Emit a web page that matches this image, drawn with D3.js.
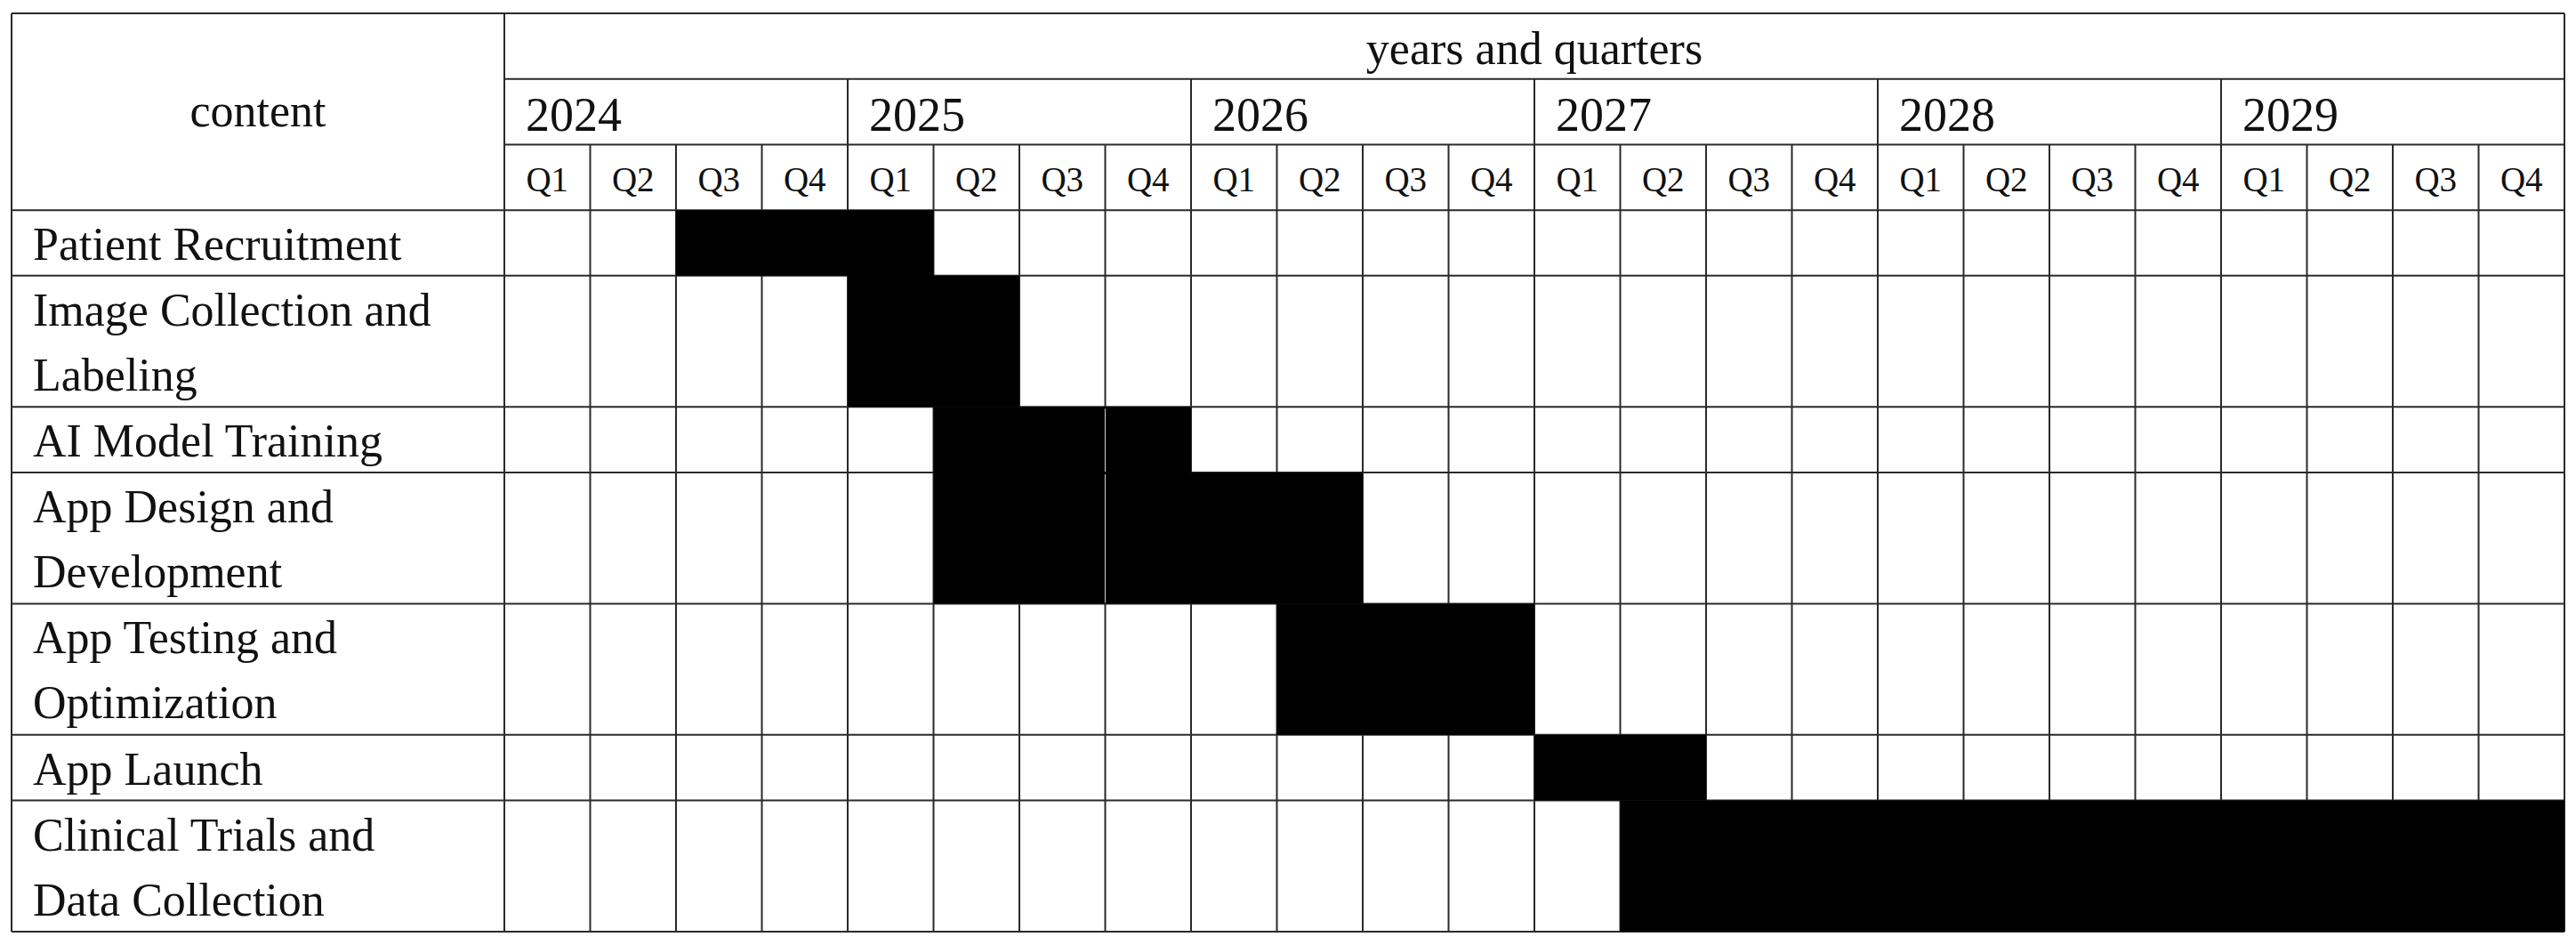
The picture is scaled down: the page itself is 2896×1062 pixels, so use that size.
<!DOCTYPE html>
<html>
<head>
<meta charset="utf-8">
<script src="https://cdn.jsdelivr.net/npm/d3@7"></script>
<style>
  html, body { margin: 0; padding: 0; background: #fff; }
  svg { display: block; }
  text { font-family: "Liberation Serif", "Times New Roman", serif; fill: #111; }
</style>
</head>
<body>
<script>
// ---- data ----
const years = ["2024", "2025", "2026", "2027", "2028", "2029"];
const quarters = ["Q1", "Q2", "Q3", "Q4"];
const headerTitle = "years and quarters";
const contentTitle = "content";
const taskLines = [
  ["Patient Recruitment"],
  ["Image Collection and", "Labeling"],
  ["AI Model Training"],
  ["App Design and", "Development"],
  ["App Testing and", "Optimization"],
  ["App Launch"],
  ["Clinical Trials and", "Data Collection"]
];
const taskStart = ["2024 Q3", "2025 Q1", "2025 Q2", "2025 Q2", "2026 Q2", "2027 Q1", "2027 Q2"];
const taskEnd   = ["2025 Q1", "2025 Q2", "2025 Q4", "2026 Q2", "2026 Q4", "2027 Q2", "2029 Q4"];
// thin light seam visible in the original between 2025 Q3 and 2025 Q4
const seamAt = "2025 Q4";
const seamTasks = [2, 3];

// ---- layout ----
const W = 2896, H = 1062;
const svg = d3.select("body").append("svg").attr("width", W).attr("height", H);

const nQ = years.length * quarters.length;
const qIndex = s => { const [y, q] = s.split(" "); return years.indexOf(y) * 4 + quarters.indexOf(q); };

const x = d3.scaleLinear().domain([0, nQ]).range([567, 2883]);
const leftX = 13;

// vertical units: header 3 rows of 1 unit, task rows 1 or 2 units (by line count)
const rowUnits = taskLines.map(l => l.length);
const totalUnits = 3 + d3.sum(rowUnits);
const y = d3.scaleLinear().domain([0, totalUnits]).range([15, 1047]);
const rowTop = [];
let acc = 3;
rowUnits.forEach(u => { rowTop.push(acc); acc += u; });

const FS = 52, QFS = 39, LINE = "#2a2a2a", SW = 2;

// ---- grid lines ----
const lines = svg.append("g").attr("stroke", LINE).attr("stroke-width", SW).attr("fill", "none");
rowTop.concat([totalUnits]).forEach(u => {
  lines.append("line").attr("x1", leftX).attr("x2", x(nQ)).attr("y1", y(u)).attr("y2", y(u));
});
lines.append("line").attr("x1", leftX).attr("x2", x(nQ)).attr("y1", y(0)).attr("y2", y(0));
[1, 2].forEach(u => lines.append("line").attr("x1", x(0)).attr("x2", x(nQ)).attr("y1", y(u)).attr("y2", y(u)));
[leftX, x(0), x(nQ)].forEach(px => lines.append("line").attr("x1", px).attr("x2", px).attr("y1", y(0)).attr("y2", y(totalUnits)));
d3.range(1, nQ).forEach(k => {
  const top = (k % 4 === 0) ? 1 : 2;
  lines.append("line").attr("x1", x(k)).attr("x2", x(k)).attr("y1", y(top)).attr("y2", y(totalUnits));
});

// ---- bars (cover the grid) ----
svg.append("g").selectAll("rect.bar").data(taskLines).join("rect")
  .attr("class", "bar")
  .attr("x", (d, i) => x(qIndex(taskStart[i])))
  .attr("width", (d, i) => x(qIndex(taskEnd[i]) + 1) - x(qIndex(taskStart[i])))
  .attr("y", (d, i) => y(rowTop[i]))
  .attr("height", (d, i) => y(rowTop[i] + rowUnits[i]) - y(rowTop[i]))
  .attr("fill", "#000");

// seam
seamTasks.forEach(i => {
  svg.append("line")
    .attr("x1", x(qIndex(seamAt))).attr("x2", x(qIndex(seamAt)))
    .attr("y1", y(rowTop[i]) + 2).attr("y2", y(rowTop[i] + rowUnits[i]) - 1)
    .attr("stroke", "#bdbdbd").attr("stroke-width", 1.2);
});

// ---- texts ----
const t = svg.append("g");
t.append("text").text(headerTitle)
  .attr("x", (x(0) + x(nQ)) / 2).attr("y", y(0) + 57)
  .attr("text-anchor", "middle").attr("font-size", FS);
t.append("text").text(contentTitle)
  .attr("x", (leftX + x(0)) / 2).attr("y", y(0) + 127)
  .attr("text-anchor", "middle").attr("font-size", FS);
t.selectAll("text.year").data(years).join("text").attr("class", "year")
  .text(d => d)
  .attr("x", (d, i) => x(i * 4) + 24).attr("y", y(1) + 58)
  .attr("font-size", FS + 2);
t.selectAll("text.q").data(d3.range(nQ)).join("text").attr("class", "q")
  .text(k => quarters[k % 4])
  .attr("x", k => (x(k) + x(k + 1)) / 2).attr("y", y(2) + 53)
  .attr("text-anchor", "middle").attr("font-size", QFS);
taskLines.forEach((ls, i) => {
  ls.forEach((s, j) => {
    t.append("text").text(s)
      .attr("x", leftX + 24).attr("y", y(rowTop[i]) + 56 + j * 73)
      .attr("font-size", FS);
  });
});
</script>
</body>
</html>
